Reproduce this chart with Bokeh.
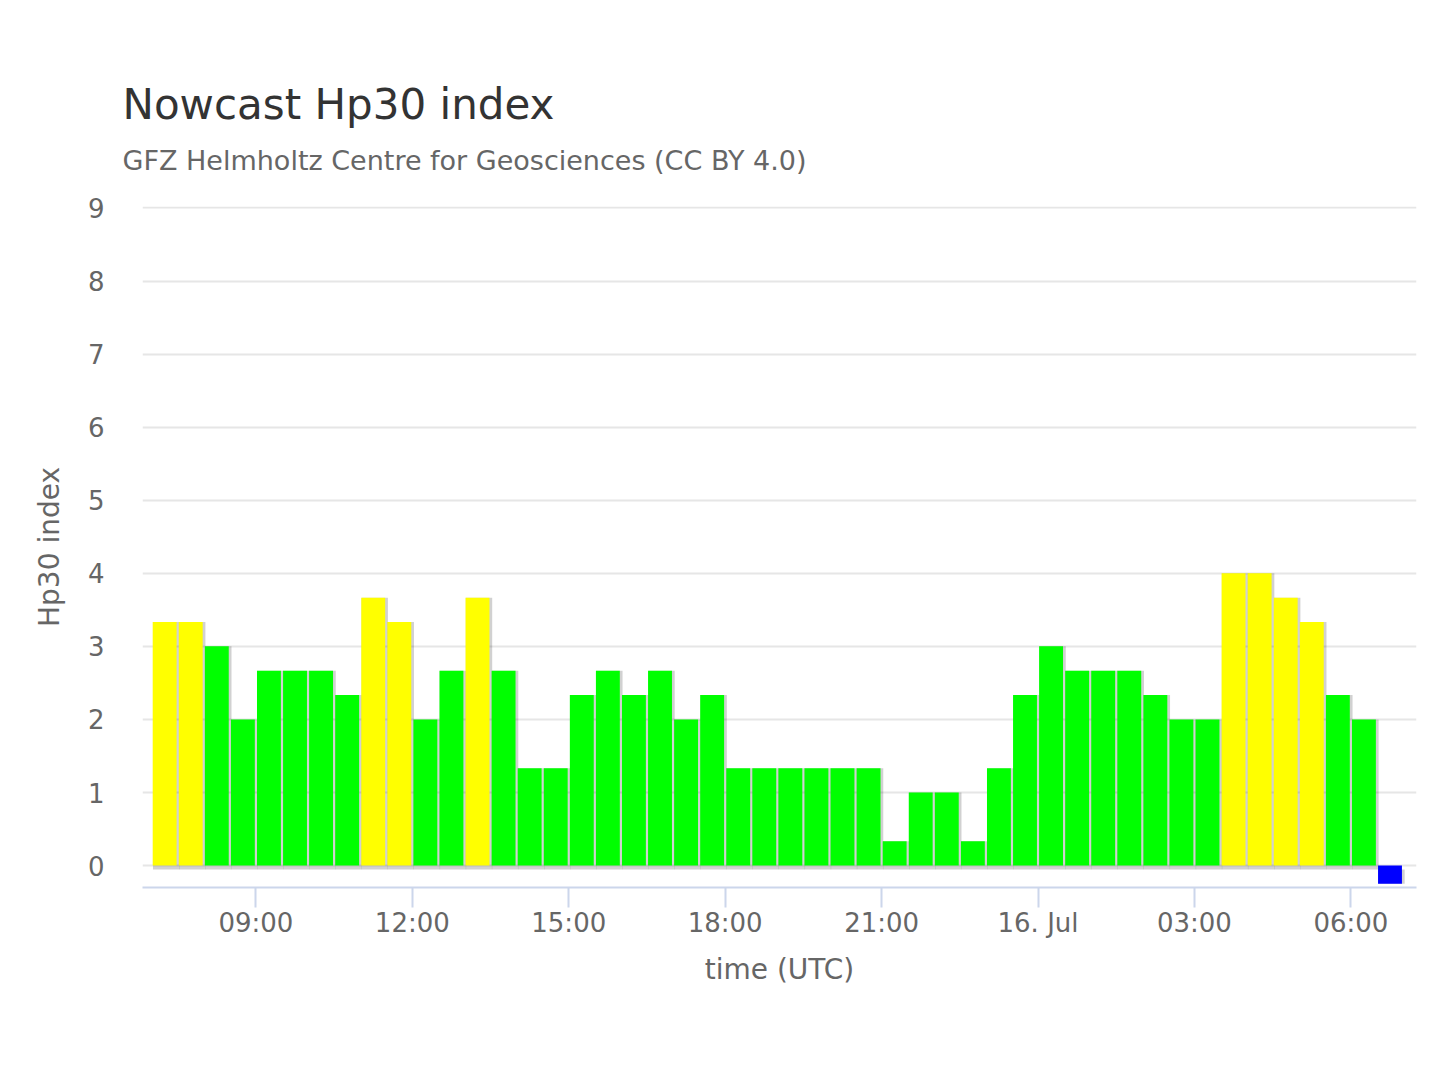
import pandas as pd
from bokeh.plotting import figure
from bokeh.models import ColumnDataSource, FixedTicker, DatetimeTickFormatter, Title, Range1d
from bokeh.transform import dodge
from bokeh.embed import file_html
from bokeh.resources import INLINE

# ---------------- data ----------------
TITLE = "Nowcast Hp30 index"
SUBTITLE = "GFZ Helmholtz Centre for Geosciences (CC BY 4.0)"
X_LABEL = "time (UTC)"
Y_LABEL = "Hp30 index"

start_time = "2024-07-15 07:15"     # centre of first 30-min interval
interval = "30min"
hp30_values = [3.333, 3.333, 3.0, 2.0, 2.667, 2.667, 2.667, 2.333, 3.667, 3.333,
               2.0, 2.667, 3.667, 2.667, 1.333, 1.333, 2.333, 2.667, 2.333, 2.667,
               2.0, 2.333, 1.333, 1.333, 1.333, 1.333, 1.333, 1.333, 0.333, 1.0,
               1.0, 0.333, 1.333, 2.333, 3.0, 2.667, 2.667, 2.667, 2.333, 2.0,
               2.0, 4.0, 4.0, 3.667, 3.333, 2.333, 2.0, -0.25]

x_tick_times = ["2024-07-15 09:00", "2024-07-15 12:00", "2024-07-15 15:00", "2024-07-15 18:00",
                "2024-07-15 21:00", "2024-07-16 00:00", "2024-07-16 03:00", "2024-07-16 06:00"]
x_tick_labels = ["09:00", "12:00", "15:00", "18:00", "21:00", "16. Jul", "03:00", "06:00"]
y_ticks = [0, 1, 2, 3, 4, 5, 6, 7, 8, 9]

x_start = "2024-07-15 06:49:30"
x_end = "2024-07-16 07:15:30"
y_start, y_end = -0.3, 9.02

# ---------------- helpers ----------------
def to_ms(t):
    return int(pd.Timestamp(t).value // 10**6)

def bar_color(v):
    if v < 0:
        return "#0000ff"
    if v < 3.2:
        return "#00ff00"
    if v < 5:
        return "#ffff00"
    if v < 7:
        return "#ff9900"
    return "#ff0000"

times = pd.date_range(start=start_time, periods=len(hp30_values), freq=interval)
times_ms = [int(t.value // 10**6) for t in times]
colors = [bar_color(v) for v in hp30_values]
src = ColumnDataSource(dict(t=times_ms, top=hp30_values, color=colors))

# ---------------- layout constants ----------------
W, H = 1424, 1064
ML, MR, MB = 142, 8, 177
FRAME_TOP = 207
frame_w = W - ML - MR
frame_h = H - FRAME_TOP - MB
x0, x1 = to_ms(x_start), to_ms(x_end)
ms_per_px = (x1 - x0) / frame_w
units_per_px = (y_end - y_start) / frame_h

MIN_MS = 60 * 1000
bar_w = 27.5 * MIN_MS

FONT = "DejaVu Sans"

p = figure(width=W, height=H, x_axis_type="datetime",
           x_range=Range1d(x0, x1), y_range=Range1d(y_start, y_end),
           output_backend="svg", toolbar_location=None,
           min_border_left=ML, min_border_right=MR, min_border_top=0, min_border_bottom=MB,
           background_fill_color="white", border_fill_color="white")
p.outline_line_color = None

# shadow (Highcharts-like soft shadow)
p.vbar(x=dodge("t", 1.5 * ms_per_px), top="top", bottom=-4 * units_per_px,
       width=bar_w + 2.5 * ms_per_px,
       fill_color="#000000", fill_alpha=0.18, line_color=None, source=src)
# bars
p.vbar(x="t", top="top", bottom=0, width=bar_w, fill_color="color", line_color=None, source=src)

# titles: stacked panels above the frame (first added = nearest the frame)
def title_panel(text, size, color, standoff, offset=-20):
    return Title(text=text, align="left", offset=offset, text_font=FONT,
                 text_font_size=size, text_color=color, text_font_style="normal",
                 vertical_align="middle", standoff=standoff)

p.add_layout(title_panel(" ", "10px", "#ffffff", 1.6), "above")         # gap above frame
p.add_layout(title_panel(SUBTITLE, "27px", "#666666", 28.5), "above")
p.add_layout(title_panel(TITLE, "42px", "#333333", 0), "above")
p.add_layout(title_panel(" ", "10px", "#ffffff", 65.3), "above")        # top margin

# grid
p.xgrid.visible = False
p.ygrid.grid_line_color = "#e6e6e6"
p.ygrid.grid_line_width = 2

# x axis
xa = p.xaxis[0]
xa.ticker = FixedTicker(ticks=[to_ms(t) for t in x_tick_times])
xa.formatter = DatetimeTickFormatter(hours="%H:%M", hourmin="%H:%M", days="%d. %b")
xa.major_label_overrides = {to_ms(t): lab for t, lab in zip(x_tick_times, x_tick_labels)}
xa.axis_line_color = "#ccd6eb"
xa.axis_line_width = 2
xa.major_tick_line_color = "#ccd6eb"
xa.major_tick_line_width = 2
xa.major_tick_out = 20
xa.major_tick_in = 0
xa.minor_tick_out = 0
xa.minor_tick_in = 0
xa.major_label_text_font = FONT
xa.major_label_text_font_size = "26px"
xa.major_label_text_color = "#666666"
xa.major_label_standoff = 0
xa.axis_label = X_LABEL
xa.axis_label_text_font = FONT
xa.axis_label_text_font_size = "28px"
xa.axis_label_text_color = "#666666"
xa.axis_label_text_font_style = "normal"
xa.axis_label_standoff = 12

# y axis
ya = p.yaxis[0]
ya.ticker = FixedTicker(ticks=y_ticks)
ya.axis_line_color = None
ya.major_tick_out = 0
ya.major_tick_in = 0
ya.minor_tick_out = 0
ya.minor_tick_in = 0
ya.major_label_text_font = FONT
ya.major_label_text_font_size = "26px"
ya.major_label_text_color = "#666666"
ya.major_label_standoff = 38
ya.axis_label = Y_LABEL
ya.axis_label_text_font = FONT
ya.axis_label_text_font_size = "28px"
ya.axis_label_text_color = "#666666"
ya.axis_label_text_font_style = "normal"
ya.axis_label_standoff = 19

open("out.html", "w").write(file_html(p, INLINE))
